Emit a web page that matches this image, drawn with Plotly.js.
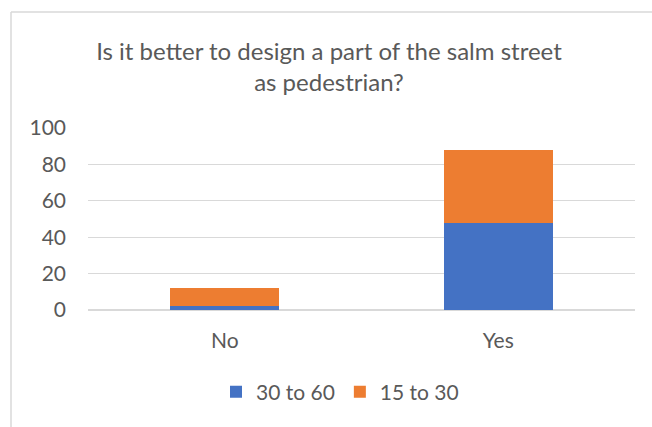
<!DOCTYPE html>
<html><head><meta charset="utf-8">
<script src="https://cdn.plot.ly/plotly-3.0.1.min.js"></script>
<style>html,body{margin:0;padding:0;background:#fff}#chart{width:652px;height:427px}</style>
</head><body><div id="chart"></div>
<script>
const categories = ["No", "Yes"];
const series1Name = "30 to 60";
const series1Values = [2, 48];
const series2Name = "15 to 30";
const series2Values = [10, 40];
const yTicks = [0, 20, 40, 60, 80, 100];

const font = "Lato, 'Open Sans', sans-serif";
const gray = "#595959";
const L = 88, R = 17, T = 128, B = 117;
const W = 652 - L - R, H = 427 - T - B;
const px = x => (x - L) / W;
const py = y => (427 - B - y) / H;

const traces = [
  {type: "bar", name: series1Name, x: categories, y: series1Values, marker: {color: "#4472C4"}},
  {type: "bar", name: series2Name, x: categories, y: series2Values, marker: {color: "#ED7D31"}}
];
const layout = {
  width: 652, height: 427,
  margin: {l: L, r: R, t: T, b: B, pad: 0},
  barmode: "stack", bargap: 0.6,
  paper_bgcolor: "#fff", plot_bgcolor: "#fff",
  font: {family: font, color: gray, size: 21},
  title: {text: "Is it better to design a part of the salm street<br>as pedestrian?",
          font: {family: font, size: 24, color: gray},
          xref: "container", x: 0.5046, xanchor: "center",
          yref: "container", y: (427 - 60) / 427, yanchor: "middle"},
  xaxis: {type: "category", range: [-0.5, 1.5], showgrid: false, zeroline: false, showline: false,
          ticks: "", tickfont: {size: 21, color: gray, family: font}, ticklabelstandoff: 16},
  yaxis: {range: [0, 100], tickvals: yTicks, showgrid: true, gridcolor: "#d9d9d9", gridwidth: 1.3,
          zeroline: true, zerolinecolor: "#d9d9d9", zerolinewidth: 1.3, showline: false, ticks: "",
          tickfont: {size: 21, color: gray, family: font}, ticklabelstandoff: 21, fixedrange: true},
  legend: {orientation: "h", x: px(340), xanchor: "center", y: py(392), yanchor: "middle",
           font: {size: 21, color: gray, family: font}, itemwidth: 30, traceorder: "normal"},
  showlegend: true,
  shapes: [
    {type: "line", xref: "paper", yref: "paper", x0: px(11), x1: px(11), y0: py(12), y1: py(430), line: {color: "#d9d9d9", width: 1.5}},
    {type: "line", xref: "paper", yref: "paper", x0: px(11), x1: px(655), y0: py(12), y1: py(12), line: {color: "#d9d9d9", width: 1.5}}
  ]
};
Plotly.newPlot("chart", traces, layout, {displayModeBar: false, staticPlot: true});
</script></body></html>
